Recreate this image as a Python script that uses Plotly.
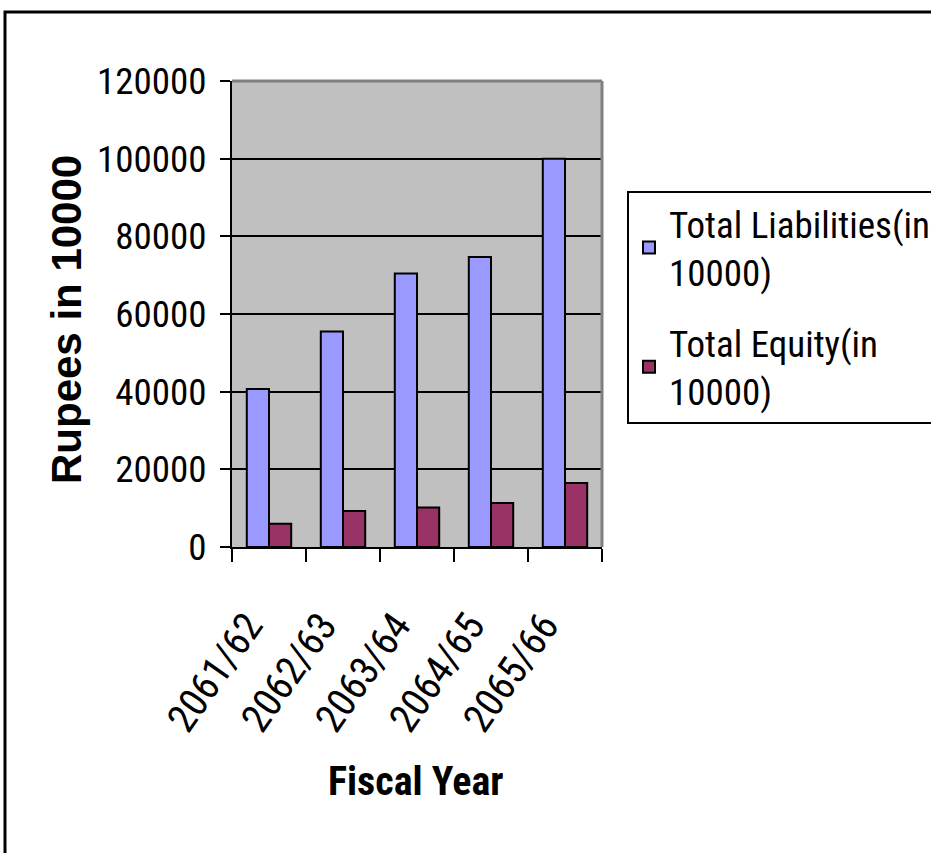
import plotly.graph_objects as go

# Fiscal years and balance-sheet totals (Rupees in 10000)
years = ["2061/62", "2062/63", "2063/64", "2064/65", "2065/66"]
total_liabilities = [40700, 55500, 70400, 74700, 100000]
total_equity = [6000, 9300, 10200, 11300, 16500]
y_ticks = [0, 20000, 40000, 60000, 80000, 100000, 120000]

W, H = 931, 853
L, R, T, B = 232, 329, 81, 306
pw, ph = W - L - R, H - T - B

def px_x(x):
    return (x - L) / pw

def px_y(y):
    return (H - B - y) / ph

narrow = "Roboto Condensed, Liberation Sans Narrow, Arial Narrow, sans-serif"
regular = "Liberation Sans, Arial, sans-serif"

fig = go.Figure()
fig.add_trace(go.Bar(
    x=years, y=total_liabilities, name="Total Liabilities(in<br>10000)",
    legendgroup="liab",
    marker=dict(color="#9999FF", line=dict(color="black", width=2)),
))
fig.add_trace(go.Bar(
    x=years, y=total_equity, name="Total Equity(in<br>10000)",
    legendgroup="eq",
    marker=dict(color="#993366", line=dict(color="black", width=2)),
))

fig.update_layout(
    width=W, height=H,
    margin=dict(l=L, r=R, t=T, b=B, autoexpand=False),
    paper_bgcolor="white",
    plot_bgcolor="#C0C0C0",
    barmode="group", bargap=0.4, bargroupgap=0,
    showlegend=True,
    legend=dict(
        x=px_x(627), y=px_y(191), xanchor="left", yanchor="top",
        bgcolor="white", bordercolor="black", borderwidth=2,
        font=dict(family=narrow, size=37, color="black"),
        traceorder="grouped", tracegroupgap=20,
    ),
    xaxis=dict(
        showline=True, linecolor="black", linewidth=2,
        ticks="outside", tickson="boundaries", ticklen=13, tickwidth=2, tickcolor="black",
        tickangle=-55, tickfont=dict(family=narrow, size=40, color="black"),
        ticklabelstandoff=37, ticklabelshift=-21,
    ),
    yaxis=dict(
        range=[0, 120000], tickvals=y_ticks, ticktext=[str(v) for v in y_ticks],
        showline=True, linecolor="black", linewidth=2,
        showgrid=True, gridcolor="black", gridwidth=2, zeroline=False,
        ticks="outside", ticklen=10, tickwidth=2, tickcolor="black",
        tickfont=dict(family=narrow, size=37, color="black"),
        ticklabelstandoff=6,
    ),
    annotations=[
        dict(text="<b>Rupees in 10000</b>", textangle=-90,
             x=px_x(66), y=px_y(320), xref="paper", yref="paper",
             xanchor="center", yanchor="middle",
             showarrow=False, font=dict(family=regular, size=42, color="black")),
        dict(text="Fiscal Year",
             x=px_x(416), y=px_y(781), xref="paper", yref="paper",
             xanchor="center", yanchor="middle",
             showarrow=False, font=dict(family=narrow, size=40, color="black", weight="bold")),
    ],
    shapes=[
        # grey top and right edges of the plot area
        dict(type="line", xref="paper", yref="paper", x0=0, x1=1, y0=1, y1=1,
             line=dict(color="#808080", width=3), layer="above"),
        dict(type="line", xref="paper", yref="paper", x0=1, x1=1, y0=0, y1=1,
             line=dict(color="#808080", width=3), layer="above"),
        # outer chart frame
        dict(type="rect", xref="paper", yref="paper",
             x0=px_x(5), x1=px_x(940), y0=px_y(12), y1=px_y(870),
             line=dict(color="black", width=3), layer="below"),
    ],
)

fig.write_html("out.html")
